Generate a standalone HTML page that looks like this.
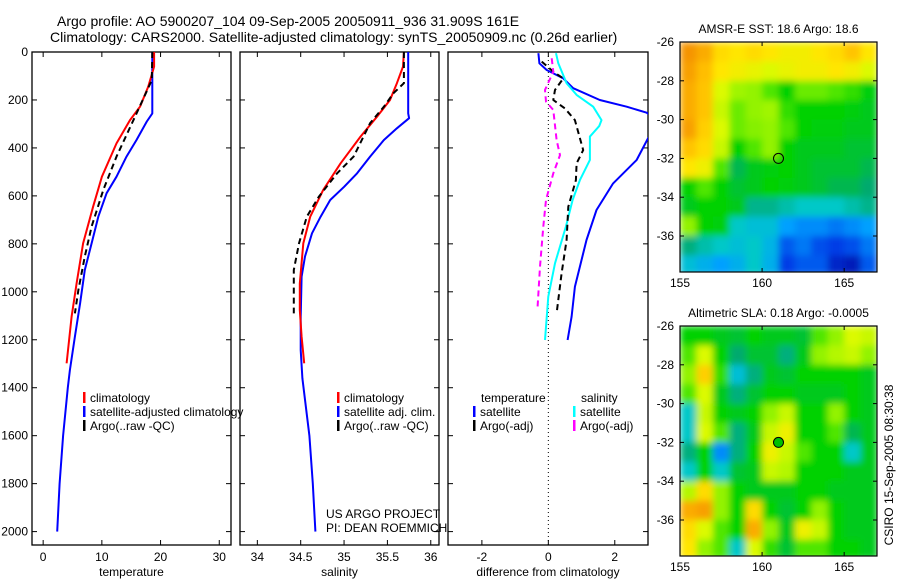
<!DOCTYPE html>
<html><head><meta charset="utf-8"><style>
html,body{margin:0;padding:0;background:#fff;}
svg{display:block;font-family:"Liberation Sans",sans-serif;}
</style></head><body>
<svg id="fig" width="900" height="580" viewBox="0 0 900 580" xmlns="http://www.w3.org/2000/svg">
<defs><filter id="smooth" x="0" y="0" width="1" height="1"><feGaussianBlur stdDeviation="3.5" edgeMode="duplicate"/></filter></defs>
<text x="57" y="26" font-size="14">Argo profile: AO 5900207_104 09-Sep-2005 20050911_936 31.909S 161E</text>
<text x="50" y="42" font-size="14">Climatology: CARS2000. Satellite-adjusted climatology: synTS_20050909.nc (0.26d earlier)</text>
<text transform="translate(893,465) rotate(-90)" text-anchor="middle" font-size="12">CSIRO 15-Sep-2005 08:30:38</text>
</svg>
<script>
// ---- data: temperature panel (depth, value)
const tBlueDepth=[0,256,290,367,436,520,589,687,798,909,1048,1187,1326,1400,1600,1800,2000];
const tBlueVal=[18.6,18.6,17.65,15.9,14.2,12.5,10.8,9.4,8.25,7.1,6.3,5.4,4.55,4.2,3.4,2.8,2.4];
const tRedDepth=[0,61,145,228,284,381,520,645,798,965,1104,1298];
const tRedVal=[18.9,18.9,17.9,16.5,14.8,12.5,10.0,8.5,6.8,5.7,4.85,4.0];
const tBlkDepth=[0,117,193,270,436,575,728,853,992,1090];
const tBlkVal=[18.6,18.5,17.1,15.65,12.5,10.25,8.25,7.1,6.0,5.4];
// salinity panel
const sBlueDepth=[0,256,276,318,367,436,506,562,617,687,756,853,937,1104,1243,1361,1600,1800,2000];
const sBlueVal=[35.74,35.74,35.75,35.61,35.46,35.30,35.15,35.0,34.84,34.73,34.63,34.55,34.51,34.50,34.50,34.52,34.60,34.64,34.67];
const sRedDepth=[0,61,130,200,270,353,464,575,687,798,965,1076,1187,1298];
const sRedVal=[35.69,35.68,35.61,35.53,35.38,35.19,34.96,34.76,34.61,34.53,34.49,34.49,34.51,34.54];
const sBlkDepth=[0,130,172,228,297,436,506,603,687,798,909,1090];
const sBlkVal=[35.69,35.69,35.57,35.46,35.30,35.11,34.92,34.71,34.57,34.48,34.42,34.42];
// difference panel
const dTSatDepth=[5,47,75,110,151,200,228,253,300,360,450,548,659,784,895,979,1104,1201];
const dTSatVal=[-0.3,-0.27,-0.05,0.45,0.75,1.55,2.36,2.96,3.4,3.0,2.66,1.95,1.45,1.15,0.95,0.8,0.7,0.58];
const dSSatDepth=[5,47,130,179,228,284,309,353,450,534,617,728,881,1020,1201];
const dSSatVal=[0.23,0.3,0.55,0.85,1.35,1.6,1.53,1.25,1.25,0.95,0.73,0.53,0.2,0.0,-0.1];
const dTArgDepth=[40,82,110,158,200,235,284,409,464,534,645,784,923,1090];
const dTArgVal=[-0.2,0.15,0.45,0.2,0.15,0.5,0.8,1.05,0.85,0.83,0.6,0.55,0.4,0.25];
const dSArgDepth=[26,82,158,207,242,367,430,506,617,728,895,1076];
const dSArgVal=[0.1,0.15,-0.1,-0.07,0.15,0.25,0.35,0.15,-0.07,-0.15,-0.25,-0.33];
// tick labels
const depthTicks=[0,200,400,600,800,1000,1200,1400,1600,1800,2000];
const tempTicks=[0,10,20,30];
const salTicks=[34,34.5,35,35.5,36];
const diffTicks=[-2,0,2];
const lonTicks=[155,160,165];
const latTicks=[-26,-28,-30,-32,-34,-36];
// maps: 12x12 grid, 1 degree cells, lat -26 downward, lon 155 rightward (colour index 0..1)
const sstGrid=[
[.82,.78,.7,.68,.7,.68,.66,.66,.68,.7,.74,.68],
[.8,.75,.68,.66,.64,.62,.64,.66,.66,.68,.66,.62],
[.78,.74,.62,.56,.55,.5,.45,.52,.52,.5,.48,.44],
[.78,.74,.6,.52,.55,.56,.48,.45,.45,.45,.44,.42],
[.8,.72,.62,.52,.54,.55,.5,.45,.44,.44,.42,.42],
[.74,.7,.6,.45,.5,.55,.45,.42,.42,.42,.4,.40],
[.68,.65,.5,.38,.42,.44,.45,.42,.4,.4,.4,.38],
[.45,.5,.45,.4,.42,.45,.44,.42,.4,.38,.38,.36],
[.42,.45,.45,.42,.34,.34,.32,.3,.3,.3,.32,.34],
[.55,.45,.44,.3,.28,.28,.22,.2,.2,.18,.2,.22],
[.35,.32,.3,.28,.3,.26,.15,.18,.14,.12,.14,.18],
[.28,.25,.22,.25,.3,.25,.12,.15,.15,.08,.06,.15]];
const slaGrid=[
[.45,.45,.42,.4,.45,.42,.42,.4,.5,.55,.62,.6],
[.5,.62,.45,.36,.4,.4,.35,.42,.55,.58,.6,.55],
[.55,.72,.48,.28,.35,.42,.4,.45,.45,.45,.45,.42],
[.5,.62,.42,.35,.4,.45,.45,.42,.42,.42,.45,.42],
[.3,.6,.45,.42,.45,.55,.6,.45,.45,.55,.45,.42],
[.3,.62,.5,.35,.42,.6,.65,.45,.45,.5,.38,.42],
[.35,.45,.2,.35,.45,.65,.6,.5,.45,.45,.3,.42],
[.3,.45,.3,.4,.42,.6,.58,.45,.45,.45,.42,.42],
[.58,.7,.55,.45,.42,.42,.42,.45,.45,.42,.42,.42],
[.78,.8,.55,.45,.7,.45,.4,.45,.55,.45,.42,.42],
[.7,.62,.5,.45,.78,.55,.42,.65,.6,.45,.42,.42],
[.68,.55,.5,.3,.62,.48,.4,.5,.5,.45,.45,.42]];
const floatLon=[161], floatLat=[-32];

const NS='http://www.w3.org/2000/svg';
const svg=document.getElementById('fig');
function mk(tag,attrs,parent){const e=document.createElementNS(NS,tag);for(const k in attrs)e.setAttribute(k,attrs[k]);(parent||svg).appendChild(e);return e;}
function txt(x,y,s,anchor,size,parent){const t=mk('text',{x:x,y:y,'text-anchor':anchor||'start','font-size':size||12},parent);t.textContent=s;return t;}

const yTop=52, yScale=0.2398, yBot=545;
const Y=d=>yTop+d*yScale;

const panels=[
 {name:'temperature',x0:32,x1:231,v0:-1.9,v1:32.0,ticks:tempTicks,label:'temperature',yl:true},
 {name:'salinity',x0:240,x1:439,v0:33.80,v1:36.095,ticks:salTicks,label:'salinity',yl:false},
 {name:'difference',x0:448,x1:648,v0:-3.02,v1:3.0,ticks:diffTicks,label:'difference from climatology',yl:false}];
panels.forEach(p=>{p.X=v=>p.x0+(v-p.v0)/(p.v1-p.v0)*(p.x1-p.x0);});

panels.forEach(p=>{
 const g=mk('g',{});
 
 
 const fr=mk('rect',{x:p.x0,y:yTop,width:p.x1-p.x0,height:yBot-yTop,fill:'none',stroke:'#000','stroke-width':1.3},g);
 
 
 depthTicks.forEach(d=>{
  mk('line',{x1:p.x0,x2:p.x0+5,y1:Y(d),y2:Y(d),stroke:'#000'},g);
  mk('line',{x1:p.x1,x2:p.x1-5,y1:Y(d),y2:Y(d),stroke:'#000'},g);
  if(p.yl){const t=txt(28,Y(d)+4,String(d),'end',12,g);
   
   }
 });
 p.ticks.forEach(v=>{
  const x=p.X(v);
  mk('line',{x1:x,x2:x,y1:yTop,y2:yTop+5,stroke:'#000'},g);
  mk('line',{x1:x,x2:x,y1:yBot,y2:yBot-5,stroke:'#000'},g);
  const t=txt(x,561,String(v),'middle',12,g);
  
  
 });
 const at=txt((p.x0+p.x1)/2,576,p.label,'middle',12,g);
 
 
});

const zl=mk('line',{x1:panels[2].X(0),x2:panels[2].X(0),y1:yTop,y2:yBot,stroke:'#000','stroke-dasharray':'1,3','stroke-width':1});



function series(p,depths,vals,color,dashed,name,w){
 const cp='clip-'+p.name;
 if(!document.getElementById(cp)){const c=mk('clipPath',{id:cp});mk('rect',{x:p.x0,y:yTop,width:p.x1-p.x0,height:yBot-yTop},c);}
 const pts=depths.map((d,i)=>p.X(vals[i]).toFixed(1)+','+Y(d).toFixed(1)).join(' ');
 const a={points:pts,fill:'none',stroke:color,'stroke-width':w||2,'clip-path':'url(#'+cp+')','stroke-linejoin':'round'};
 if(dashed)a['stroke-dasharray']='6,4';
 const l=mk('polyline',a);
 
 
}
series(panels[0],tBlueDepth,tBlueVal,'#0000ff',false,'temp-satellite-adjusted-line');
series(panels[0],tRedDepth,tRedVal,'#ff0000',false,'temp-climatology-line');
series(panels[0],tBlkDepth,tBlkVal,'#000',true,'temp-argo-line');
series(panels[1],sBlueDepth,sBlueVal,'#0000ff',false,'sal-satellite-adjusted-line');
series(panels[1],sRedDepth,sRedVal,'#ff0000',false,'sal-climatology-line');
series(panels[1],sBlkDepth,sBlkVal,'#000',true,'sal-argo-line');
series(panels[2],dTSatDepth,dTSatVal,'#0000ff',false,'diff-temp-satellite-line');
series(panels[2],dSSatDepth,dSSatVal,'#00ffff',false,'diff-sal-satellite-line');
series(panels[2],dTArgDepth,dTArgVal,'#000',true,'diff-temp-argo-line');
series(panels[2],dSArgDepth,dSArgVal,'#ff00ff',true,'diff-sal-argo-line');

function legend(x,y,items,name){
 const g=mk('g',{});
 
 
 items.forEach((it,i)=>{
  const yy=y+i*14;
  if(it[1])mk('rect',{x:x,y:yy-10,width:2.5,height:11,fill:it[1]},g);
  txt(x+(it[1]?7:0),yy,it[0],'start',12,g);
 });
}
legend(83,402,[['climatology','#ff0000'],['satellite-adjusted climatology','#0000ff'],['Argo(..raw -QC)','#000']],'temperature-legend');
legend(337,402,[['climatology','#ff0000'],['satellite adj. clim.','#0000ff'],['Argo(..raw -QC)','#000']],'salinity-legend');
legend(481,402,[['temperature',null]],'diff-legend-temp-head');
legend(473,416,[['satellite','#0000ff'],['Argo(-adj)','#000']],'diff-legend-temp');
legend(581,402,[['salinity',null]],'diff-legend-sal-head');
legend(573,416,[['satellite','#00ffff'],['Argo(-adj)','#ff00ff']],'diff-legend-sal');
const c1=txt(326,518,'US ARGO PROJECT','start',12);


const c2=txt(326,532,'PI: DEAN ROEMMICH','start',12);



const stops=[[0,[0,0,140]],[.12,[0,60,230]],[.22,[0,160,255]],[.3,[0,200,200]],[.36,[0,170,110]],[.40,[0,195,50]],[.45,[0,210,0]],[.5,[80,230,0]],[.56,[160,245,0]],[.62,[220,250,0]],[.68,[255,230,0]],[.75,[255,190,0]],[.85,[240,130,0]],[1,[200,60,0]]];
function cmap(v){for(let i=1;i<stops.length;i++){if(v<=stops[i][0]){const a=stops[i-1],b=stops[i],t=(v-a[0])/(b[0]-a[0]);return 'rgb('+a[1].map((c,k)=>Math.round(c+(b[1][k]-c)*t)).join(',')+')';}}return 'rgb(200,60,0)';}

function drawMap(top,bottom,grid,title,name,filled){
 const x0=680,x1=877,lon0=155,lon1=167,lat0=-26;
 const MX=l=>x0+(l-lon0)/(lon1-lon0)*(x1-x0);
 const MY=l=>top+(lat0-l)*19.4;
 const g=mk('g',{});
 
 
 const cid='clip-'+name;const c=mk('clipPath',{id:cid},g);mk('rect',{x:x0,y:top,width:x1-x0,height:bottom-top},c);
 const outer=mk('g',{'clip-path':'url(#'+cid+')'},g);
 const cells=mk('g',{filter:'url(#smooth)'},outer);
 grid.forEach((row,r)=>row.forEach((v,k)=>{
  const cell=mk('rect',{x:MX(lon0+k).toFixed(1),y:MY(lat0-r).toFixed(1),width:(MX(1)-MX(0)+0.6).toFixed(1),height:20,fill:cmap(v)},cells);
  
  
 }));
 mk('rect',{x:x0,y:top,width:x1-x0,height:bottom-top,fill:'none',stroke:'#000','stroke-width':1.2},g);
 lonTicks.forEach(l=>{const x=MX(l);mk('line',{x1:x,x2:x,y1:top,y2:top+4,stroke:'#000'},g);mk('line',{x1:x,x2:x,y1:bottom,y2:bottom-4,stroke:'#000'},g);
  const t=txt(x,bottom+15,String(l),'middle',12,g);});
 latTicks.forEach(l=>{const y=MY(l);mk('line',{x1:x0,x2:x0+4,y1:y,y2:y,stroke:'#000'},g);mk('line',{x1:x1,x2:x1-4,y1:y,y2:y,stroke:'#000'},g);
  const t=txt(674,y+4,String(l),'end',12,g);});
 const tt=txt((x0+x1)/2,top-9,title,'middle',12,g);
 
 
 const m=mk('circle',{cx:MX(floatLon[0]),cy:MY(floatLat[0]),r:5,fill:filled?'#00c000':'none',stroke:'#000','stroke-width':1},g);
 
 
}
drawMap(42,272,sstGrid,'AMSR-E SST: 18.6 Argo: 18.6','sst-map',false);
drawMap(326,556,slaGrid,'Altimetric SLA: 0.18 Argo: -0.0005','sla-map',true);
</script>
</body></html>
